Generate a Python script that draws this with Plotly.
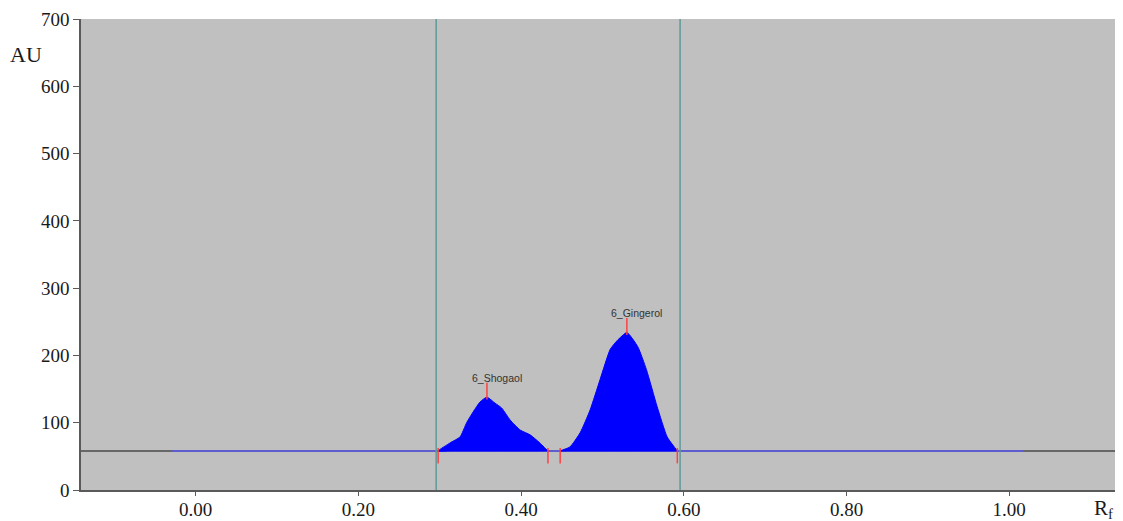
import plotly.graph_objects as go

# ---- data ----
BASELINE_AU = 58
SCAN_RF = [-0.029, 1.017]          # extent of the blue scanned baseline
WINDOW_RF = [0.2956, 0.5954]       # integration window (vertical lines)

shogaol_rf = [0.298, 0.3127, 0.325, 0.333, 0.341, 0.3496, 0.358, 0.368, 0.376,
              0.3865, 0.399, 0.411, 0.423, 0.433]
shogaol_au = [58, 70, 79, 100, 116, 131, 138, 129, 122, 104, 89, 82, 70, 58]

gingerol_rf = [0.448, 0.460, 0.4725, 0.4848, 0.497, 0.5095, 0.518, 0.530, 0.5434,
               0.554, 0.5672, 0.5795, 0.592]
gingerol_au = [58, 64, 85, 119, 164, 209, 222, 234, 213, 179, 124, 79, 58]

peak_names = ["6_Shogaol", "6_Gingerol"]
x_ticks = [0.0, 0.2, 0.4, 0.6, 0.8, 1.0]
x_tick_text = ["0.00", "0.20", "0.40", "0.60", "0.80", "1.00"]
y_ticks = [0, 100, 200, 300, 400, 500, 600, 700]

X_RANGE = [-0.141, 1.130]
Y_RANGE = [0, 700]

fig = go.Figure()

# blue scanned baseline
fig.add_trace(go.Scatter(x=SCAN_RF, y=[BASELINE_AU, BASELINE_AU], mode="lines",
                         line=dict(color="#5a5af0", width=1.5), hoverinfo="skip"))

peaks = [(shogaol_rf, shogaol_au), (gingerol_rf, gingerol_au)]
for (rf, au), name in zip(peaks, peak_names):
    xs = rf + rf[::-1]
    ys = au + [BASELINE_AU] * len(rf)
    fig.add_trace(go.Scatter(x=xs, y=ys, mode="lines", fill="toself",
                             fillcolor="#0000ff",
                             line=dict(color="#0000ff", width=1, shape="spline", smoothing=0.5),
                             name=name, hoverinfo="skip"))
    # peak start / end brackets
    fig.add_trace(go.Scatter(x=[rf[0], rf[-1]], y=[BASELINE_AU - 7, BASELINE_AU - 7],
                             mode="markers",
                             marker=dict(symbol="line-ns", size=11,
                                         line=dict(color="#ff4040", width=1.5)),
                             hoverinfo="skip"))
    # peak apex tick
    i = au.index(max(au))
    fig.add_trace(go.Scatter(x=[rf[i]], y=[au[i] + 9], mode="markers",
                             marker=dict(symbol="line-ns", size=12,
                                         line=dict(color="#ff4040", width=1.5)),
                             hoverinfo="skip"))
    fig.add_annotation(x=rf[i] + 0.012, y=au[i] + 29, text=name, showarrow=False,
                       font=dict(family="Liberation Sans", size=10.5, color="#333333"))

shapes = [
    dict(type="line", xref="paper", x0=0, x1=1, yref="y", y0=BASELINE_AU, y1=BASELINE_AU,
         line=dict(color="#4a4a4a", width=1.5), layer="below"),
]
for w in WINDOW_RF:
    shapes.append(dict(type="line", xref="x", x0=w, x1=w, yref="paper", y0=0, y1=1,
                       line=dict(color="#5f9a9a", width=1.5)))

TICK_FONT = dict(family="Liberation Serif", size=19, color="#1a1a1a")

fig.update_layout(
    width=1123, height=521,
    margin=dict(l=81, r=8, t=19, b=31),
    paper_bgcolor="white", plot_bgcolor="#c0c0c0",
    showlegend=False,
    shapes=shapes,
    font=dict(family="Liberation Serif", size=19, color="#1a1a1a"),
    xaxis=dict(range=X_RANGE, tickvals=x_ticks, ticktext=x_tick_text, automargin=False,
               showgrid=False, zeroline=False, showline=True, linecolor="#5a5a5a",
               linewidth=1.5, ticks="outside", ticklen=4, tickcolor="#5a5a5a",
               ticklabelstandoff=-3, tickfont=TICK_FONT),
    yaxis=dict(range=Y_RANGE, tickvals=y_ticks, showgrid=False, zeroline=False,
               automargin=False,
               showline=True, linecolor="#5a5a5a", linewidth=1.5, ticks="outside",
               ticklen=6, tickcolor="#5a5a5a", tickfont=TICK_FONT),
    annotations=list(fig.layout.annotations) + [
        dict(text="AU", xref="paper", yref="paper", x=-0.0705, y=0.925, xanchor="left",
             yanchor="middle", showarrow=False,
             font=dict(family="Liberation Serif", size=22, color="#1a1a1a")),
        dict(text="R<sub>f</sub>", xref="paper", yref="paper", x=1.0, y=-0.04,
             xanchor="right", yanchor="middle", showarrow=False,
             font=dict(family="Liberation Serif", size=21, color="#1a1a1a")),
    ],
)

fig.write_html("out.html", config={"displayModeBar": False},
               post_script="document.body.style.margin='0';document.body.style.overflow='hidden';")
